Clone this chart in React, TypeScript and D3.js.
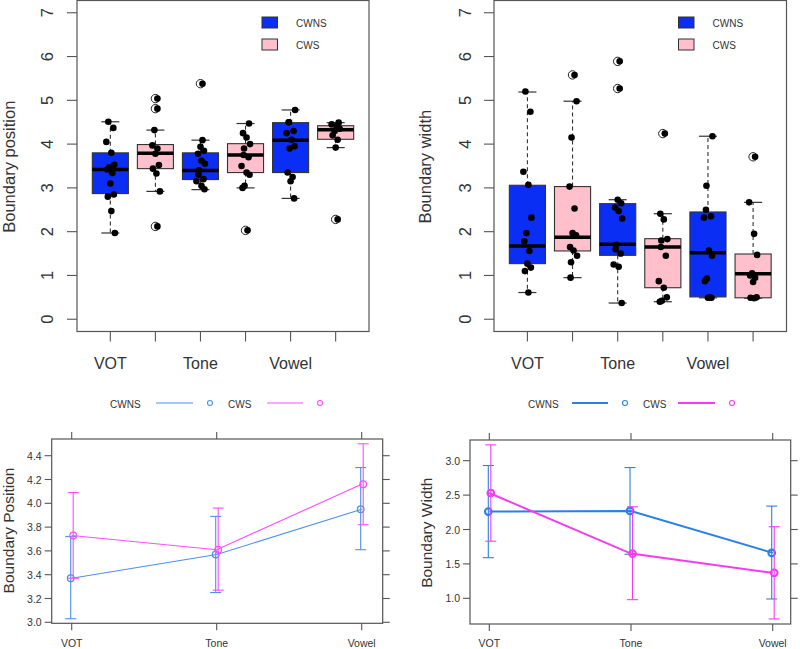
import React from "react";
import * as d3 from "d3";

// ---------- data ----------
const CATEGORIES = ["VOT", "Tone", "Vowel"];
const GROUPS = ["CWNS", "CWS"];
const BOX_FILLS = ["#0b2ef4", "#ffc0cb"];

// box order: VOT-CWNS, VOT-CWS, Tone-CWNS, Tone-CWS, Vowel-CWNS, Vowel-CWS
// [lower whisker, Q1, median, Q3, upper whisker]
const posStats = [
  [1.97, 2.87, 3.42, 3.8, 4.51],
  [2.92, 3.44, 3.79, 3.99, 4.32],
  [2.96, 3.19, 3.4, 3.8, 4.09],
  [3.0, 3.35, 3.75, 4.01, 4.47],
  [2.76, 3.35, 4.09, 4.49, 4.78],
  [3.92, 4.11, 4.33, 4.42, 4.49],
];
const posOutliers = [[], [5.04, 4.81, 2.12], [5.38], [2.03], [], [2.28]];
const posPoints = [
  [4.51, 4.37, 4.05, 3.8, 3.53, 3.47, 3.42, 3.34, 3.1, 2.85, 2.8, 2.47, 1.97],
  [5.04, 4.81, 4.32, 3.97, 3.9, 3.78, 3.52, 3.44, 3.33, 2.92, 2.12],
  [5.38, 4.09, 3.94, 3.85, 3.78, 3.62, 3.55, 3.4, 3.3, 3.2, 3.15, 3.05, 2.97],
  [4.47, 4.25, 4.15, 4.0, 3.9, 3.75, 3.7, 3.5, 3.35, 3.3, 3.05, 3.0, 2.03],
  [4.78, 4.5, 4.5, 4.3, 4.25, 4.1, 3.95, 3.9, 3.35, 3.25, 3.15, 2.76],
  [4.49, 4.45, 4.4, 4.35, 4.3, 4.2, 4.1, 3.92, 2.28],
];

const widthStats = [
  [0.61, 1.27, 1.67, 3.06, 5.19],
  [0.95, 1.56, 1.87, 3.03, 4.98],
  [0.37, 1.46, 1.71, 2.64, 2.73],
  [0.4, 0.72, 1.65, 1.84, 2.41],
  [0.49, 0.51, 1.52, 2.45, 4.18],
  [0.48, 0.49, 1.04, 1.49, 2.67],
];
const widthOutliers = [[], [5.58], [5.89, 5.27], [4.24], [], [3.71]];
const widthPoints = [
  [5.2, 4.74, 3.37, 3.07, 2.32, 1.97, 1.78, 1.56, 1.27, 1.18, 1.1, 0.61],
  [5.58, 4.98, 4.15, 3.03, 2.53, 1.97, 1.92, 1.65, 1.57, 1.45, 1.3, 0.95],
  [5.89, 5.27, 2.73, 2.65, 2.55, 2.47, 2.3, 1.7, 1.6, 1.5, 1.25, 1.2, 0.37],
  [4.24, 2.41, 2.28, 1.83, 1.8, 1.65, 1.45, 0.87, 0.72, 0.5, 0.42, 0.4],
  [4.18, 3.05, 2.5, 2.35, 2.32, 1.57, 1.45, 0.93, 0.87, 0.5, 0.49, 0.49],
  [3.71, 2.67, 1.95, 1.47, 1.05, 1.0, 0.95, 0.85, 0.5, 0.49, 0.48],
];

const posMeanCWNS = [3.37, 3.57, 3.95];
const posLowCWNS = [3.03, 3.25, 3.61];
const posHighCWNS = [3.72, 3.89, 4.3];
const posMeanCWS = [3.73, 3.61, 4.16];
const posLowCWS = [3.37, 3.27, 3.82];
const posHighCWS = [4.09, 3.96, 4.5];

const widMeanCWNS = [2.26, 2.27, 1.66];
const widLowCWNS = [1.59, 1.64, 0.99];
const widHighCWNS = [2.93, 2.9, 2.34];
const widMeanCWS = [2.53, 1.65, 1.37];
const widLowCWS = [1.83, 0.98, 0.7];
const widHighCWS = [3.23, 2.33, 2.04];

const boxYTicks = [0, 1, 2, 3, 4, 5, 6, 7];
const posTicks = [3.0, 3.2, 3.4, 3.6, 3.8, 4.0, 4.2, 4.4];
const widTicks = [1.0, 1.5, 2.0, 2.5, 3.0];

// ---------- style ----------
const FONT = "Liberation Sans, Arial, sans-serif";
const JITTER = [-2, 3, -4, 1, 4, -1, -3, 2, 0, 3.5, -2.5, 1, 4.5, -1.5];

type BoxProps = {
  left: number;
  right: number;
  yLabel: string;
  labelX: number;
  tickLabelX: number;
  legendX: number;
  stats: number[][];
  outliers: number[][];
  points: number[][];
};

function BoxPanel(p: BoxProps) {
  const top = 0.5;
  const bottom = 331.5;
  const y = d3.scaleLinear().domain([-0.28, 7.28]).range([bottom, top]);
  const x = d3.scaleLinear().domain([0.26, 6.74]).range([p.left, p.right]);
  const bw = x(1.4) - x(1); // half of boxwex 0.8
  const staple = bw / 2;
  return (
    <g>
      <rect x={p.left} y={top} width={p.right - p.left} height={bottom - top} fill="none" stroke="#555" strokeWidth={1.2} />
      {boxYTicks.map((t) => (
        <g key={t}>
          <line x1={p.left - 10} x2={p.left} y1={y(t)} y2={y(t)} stroke="#555" strokeWidth={1.1} />
          <text
            transform={`translate(${p.tickLabelX},${y(t)}) rotate(-90)`}
            textAnchor="middle"
            dominantBaseline="central"
            fontSize={16.5}
            fontFamily={FONT}
            fill="#333"
          >
            {t}
          </text>
        </g>
      ))}
      {d3.range(1, 7).map((i) => (
        <line key={i} x1={x(i)} x2={x(i)} y1={bottom} y2={bottom + 10} stroke="#555" strokeWidth={1.1} />
      ))}
      {CATEGORIES.map((c, k) => (
        <text key={c} x={x(1 + 2 * k)} y={368.5} textAnchor="middle" fontSize={16} fontFamily={FONT} fill="#333">
          {c}
        </text>
      ))}
      <text
        transform={`translate(${p.labelX},166.7) rotate(-90)`}
        textAnchor="middle"
        dominantBaseline="central"
        fontSize={16.5}
        fontFamily={FONT}
        fill="#333"
      >
        {p.yLabel}
      </text>
      {p.stats.map((s, i) => {
        const cx = x(i + 1);
        const [lo, q1, med, q3, hi] = s;
        return (
          <g key={i}>
            <line x1={cx} x2={cx} y1={y(q3)} y2={y(hi)} stroke="#333" strokeDasharray="4,3" strokeWidth={1.1} />
            <line x1={cx} x2={cx} y1={y(q1)} y2={y(lo)} stroke="#333" strokeDasharray="4,3" strokeWidth={1.1} />
            <line x1={cx - staple} x2={cx + staple} y1={y(hi)} y2={y(hi)} stroke="#333" strokeWidth={1.2} />
            <line x1={cx - staple} x2={cx + staple} y1={y(lo)} y2={y(lo)} stroke="#333" strokeWidth={1.2} />
            <rect x={cx - bw} y={y(q3)} width={2 * bw} height={y(q1) - y(q3)} fill={BOX_FILLS[i % 2]} stroke="#333" strokeWidth={1.1} />
            <line x1={cx - bw} x2={cx + bw} y1={y(med)} y2={y(med)} stroke="#000" strokeWidth={3.5} />
            {p.outliers[i].map((o, j) => (
              <circle key={j} cx={cx} cy={y(o)} r={4.2} fill="#fff" stroke="#222" strokeWidth={1} />
            ))}
          </g>
        );
      })}
      {p.points.map((arr, i) =>
        arr.map((v, j) => {
          const isOut = p.outliers[i].includes(v);
          const dx = isOut ? 2 : JITTER[(j + i * 3) % JITTER.length];
          return <circle key={`${i}-${j}`} cx={x(i + 1) + dx} cy={y(v)} r={3.3} fill="#000" />;
        })
      )}
      {GROUPS.map((g, k) => (
        <g key={g}>
          <rect x={p.legendX} y={17 + k * 22} width={15.5} height={11} fill={BOX_FILLS[k]} stroke="#333" strokeWidth={1} />
          <text x={p.legendX + 34} y={23 + k * 22} dominantBaseline="central" fontSize={10} fontFamily={FONT} fill="#333">
            {g}
          </text>
        </g>
      ))}
    </g>
  );
}

type LineProps = {
  left: number;
  right: number;
  top: number;
  bottom: number;
  xs: [number, number];
  yDomain: [number, number];
  yRange: [number, number];
  ticks: number[];
  yLabel: string;
  labelX: number;
  labelY: number;
  lw: number;
  blue: string;
  pink: string;
  legend: { t1: number; l1: [number, number]; c1: number; t2: number; l2: [number, number]; c2: number };
  series: { mean: number[]; low: number[]; high: number[] }[];
};

function LinePanel(p: LineProps) {
  const x = d3.scaleLinear().domain([1, 3]).range(p.xs);
  const y = d3.scaleLinear().domain(p.yDomain).range(p.yRange);
  const line = d3
    .line<number>()
    .x((_, i) => x(i + 1))
    .y((d) => y(d));
  const colors = [p.blue, p.pink];
  const offs = [-1, 1.5];
  const tl = 7;
  return (
    <g>
      <rect x={p.left} y={p.top} width={p.right - p.left} height={p.bottom - p.top} fill="none" stroke="#555" strokeWidth={1.2} />
      {p.ticks.map((t) => (
        <g key={t}>
          <line x1={p.left - tl} x2={p.left} y1={y(t)} y2={y(t)} stroke="#555" strokeWidth={1.1} />
          <line x1={p.right} x2={p.right + tl} y1={y(t)} y2={y(t)} stroke="#555" strokeWidth={1.1} />
          <text x={p.left - tl - 3} y={y(t)} textAnchor="end" dominantBaseline="central" fontSize={10.5} fontFamily={FONT} fill="#333">
            {t.toFixed(1)}
          </text>
        </g>
      ))}
      {CATEGORIES.map((c, i) => (
        <g key={c}>
          <line x1={x(i + 1)} x2={x(i + 1)} y1={p.bottom} y2={p.bottom + tl} stroke="#555" strokeWidth={1.1} />
          <line x1={x(i + 1)} x2={x(i + 1)} y1={p.top - tl} y2={p.top} stroke="#555" strokeWidth={1.1} />
          <text x={x(i + 1)} y={643} textAnchor="middle" dominantBaseline="central" fontSize={10.5} fontFamily={FONT} fill="#333">
            {c}
          </text>
        </g>
      ))}
      <text
        transform={`translate(${p.labelX},${p.labelY}) rotate(-90)`}
        textAnchor="middle"
        dominantBaseline="central"
        fontSize={15.5}
        fontFamily={FONT}
        fill="#333"
      >
        {p.yLabel}
      </text>
      {p.series.map((s, k) => (
        <g key={k}>
          {s.mean.map((m, i) => {
            const cx = x(i + 1) + offs[k];
            return (
              <g key={i}>
                <line x1={cx} x2={cx} y1={y(s.low[i])} y2={y(s.high[i])} stroke={colors[k]} strokeWidth={1.1} />
                <line x1={cx - 5.5} x2={cx + 5.5} y1={y(s.low[i])} y2={y(s.low[i])} stroke={colors[k]} strokeWidth={1.1} />
                <line x1={cx - 5.5} x2={cx + 5.5} y1={y(s.high[i])} y2={y(s.high[i])} stroke={colors[k]} strokeWidth={1.1} />
              </g>
            );
          })}
          <path d={line(s.mean) || ""} fill="none" stroke={colors[k]} strokeWidth={p.lw} />
          {s.mean.map((m, i) => (
            <circle key={i} cx={x(i + 1) + offs[k]} cy={y(m)} r={3.3} fill="none" stroke={colors[k]} strokeWidth={p.lw * 0.9 + 0.3} />
          ))}
        </g>
      ))}
      {/* legend */}
      <text x={p.legend.t1} y={404} dominantBaseline="central" fontSize={10} fontFamily={FONT} fill="#333">
        {GROUPS[0]}
      </text>
      <line x1={p.legend.l1[0]} x2={p.legend.l1[1]} y1={403} y2={403} stroke={p.blue} strokeWidth={p.lw} />
      <circle cx={p.legend.c1} cy={403} r={2.5} fill="none" stroke={p.blue} strokeWidth={1.1} />
      <text x={p.legend.t2} y={404} dominantBaseline="central" fontSize={10} fontFamily={FONT} fill="#333">
        {GROUPS[1]}
      </text>
      <line x1={p.legend.l2[0]} x2={p.legend.l2[1]} y1={403} y2={403} stroke={p.pink} strokeWidth={p.lw} />
      <circle cx={p.legend.c2} cy={403} r={2.5} fill="none" stroke={p.pink} strokeWidth={1.1} />
    </g>
  );
}

export default function App() {
  return (
    <svg
      width={800}
      height={649}
      style={{ position: "absolute", left: 0, top: 0, background: "#fff" }}
    >
      <rect width={800} height={649} fill="#fff" />
      <BoxPanel
        left={77}
        right={369}
        yLabel="Boundary position"
        labelX={9}
        tickLabelX={47}
        legendX={262}
        stats={posStats}
        outliers={posOutliers}
        points={posPoints}
      />
      <BoxPanel
        left={494}
        right={786.5}
        yLabel="Boundary width"
        labelX={425}
        tickLabelX={465}
        legendX={678.5}
        stats={widthStats}
        outliers={widthOutliers}
        points={widthPoints}
      />
      <LinePanel
        left={51.7}
        right={382.7}
        top={439}
        bottom={623.3}
        xs={[71.7, 361.7]}
        yDomain={[3.0, 4.4]}
        yRange={[622.3, 455.7]}
        ticks={posTicks}
        yLabel="Boundary Position"
        labelX={8.5}
        labelY={530.5}
        lw={1.1}
        blue="#4a92ec"
        pink="#ff4cff"
        legend={{ t1: 110, l1: [156, 193], c1: 210, t2: 228, l2: [267, 303], c2: 320 }}
        series={[
          { mean: posMeanCWNS, low: posLowCWNS, high: posHighCWNS },
          { mean: posMeanCWS, low: posLowCWS, high: posHighCWS },
        ]}
      />
      <LinePanel
        left={470}
        right={790.7}
        top={440}
        bottom={624}
        xs={[489.3, 772.7]}
        yDomain={[1.0, 3.0]}
        yRange={[598.3, 460.7]}
        ticks={widTicks}
        yLabel="Boundary Width"
        labelX={426.7}
        labelY={532.7}
        lw={2}
        blue="#2a80e8"
        pink="#f53cf0"
        legend={{ t1: 528, l1: [572, 608], c1: 625, t2: 643, l2: [678, 715], c2: 732 }}
        series={[
          { mean: widMeanCWNS, low: widLowCWNS, high: widHighCWNS },
          { mean: widMeanCWS, low: widLowCWS, high: widHighCWS },
        ]}
      />
    </svg>
  );
}
